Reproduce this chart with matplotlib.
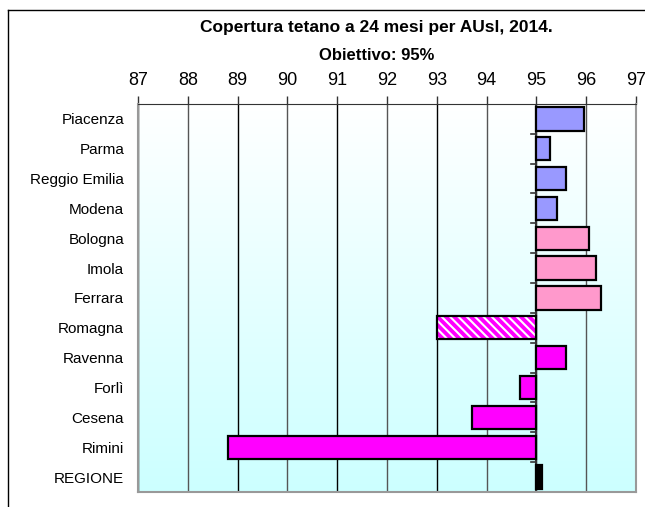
import matplotlib
matplotlib.use("Agg")
import matplotlib.pyplot as plt
import numpy as np
from matplotlib.lines import Line2D
from matplotlib.colors import LinearSegmentedColormap

plt.rcParams['font.family'] = ['Liberation Sans', 'DejaVu Sans']
plt.rcParams['hatch.linewidth'] = 1.5

areas = ['Piacenza', 'Parma', 'Reggio Emilia', 'Modena', 'Bologna', 'Imola',
         'Ferrara', 'Romagna', 'Ravenna', 'Forlì', 'Cesena', 'Rimini', 'REGIONE']
coverage = [95.95, 95.28, 95.6, 95.42, 96.05, 96.19, 96.29,
            93.0, 95.6, 94.68, 93.71, 88.8, 95.11]
colors = ['#9999ff'] * 4 + ['#ff99cc'] * 3 + ['#ff00ff'] * 5 + ['#000000']
target = 95
xticks = list(range(87, 98))

fig = plt.figure(figsize=(6.45, 5.07), dpi=100)
ax = fig.add_axes([0.214, 0.0296, 0.772, 0.7654])

# background gradient white -> light cyan
grad = np.linspace(0, 1, 256).reshape(-1, 1)
cmap = LinearSegmentedColormap.from_list('bg', ['#ffffff', '#ccffff'])
ax.imshow(grad, cmap=cmap, aspect='auto', extent=[87, 97, len(areas) - 0.5, -0.5],
          zorder=0)

ypos = np.arange(len(areas))
for y, v, c, name in zip(ypos, coverage, colors, areas):
    left = min(v, target)
    w = abs(v - target)
    if name == 'Romagna':
        ax.barh(y, w, left=left, height=0.78, color=c, edgecolor='white',
                hatch='\\\\\\\\', linewidth=0, zorder=3)
        ax.barh(y, w, left=left, height=0.78, fill=False, edgecolor='black',
                linewidth=1.6, zorder=4)
    else:
        ax.barh(y, w, left=left, height=0.78, color=c, edgecolor='black',
                linewidth=1.6, zorder=3)

for i, x in enumerate(xticks):
    ax.axvline(x, color='#555555' if i % 2 else '#000000', lw=1, zorder=1)

# category axis crossing at 95
ax.axvline(target, color='#333333', lw=1.5, zorder=2)
for b in np.arange(0.5, len(areas) - 0.5, 1.0):
    ax.plot([target - 0.1, target], [b, b], color='#333333', lw=1.2, zorder=2)

ax.set_xlim(87, 97)
ax.set_ylim(len(areas) - 0.5, -0.5)
ax.xaxis.tick_top()
ax.set_xticks(xticks)
ax.tick_params(axis='x', direction='out', length=6, width=1, pad=5,
               labelsize=13, color='#333333')
ax.set_yticks(ypos)
ax.set_yticklabels(areas, fontsize=11)
ax.tick_params(axis='y', length=0, pad=10)
for s in ['left', 'right', 'bottom']:
    ax.spines[s].set_color('#999999')
    ax.spines[s].set_linewidth(1.5)
ax.spines['top'].set_color('#333333')

fig.text(0.584, 0.945, 'Copertura tetano a 24 mesi per AUsl, 2014.',
         ha='center', va='center', fontsize=12.5, fontweight='bold')
fig.text(0.584, 0.890, 'Obiettivo: 95%', ha='center', va='center',
         fontsize=12, fontweight='bold')

# outer frame
fig.add_artist(Line2D([0.0124, 1.0], [0.980, 0.980], color='black', lw=1))
fig.add_artist(Line2D([0.0124, 0.0124], [0.0, 0.980], color='black', lw=1))

fig.savefig('out.png', dpi=100)
